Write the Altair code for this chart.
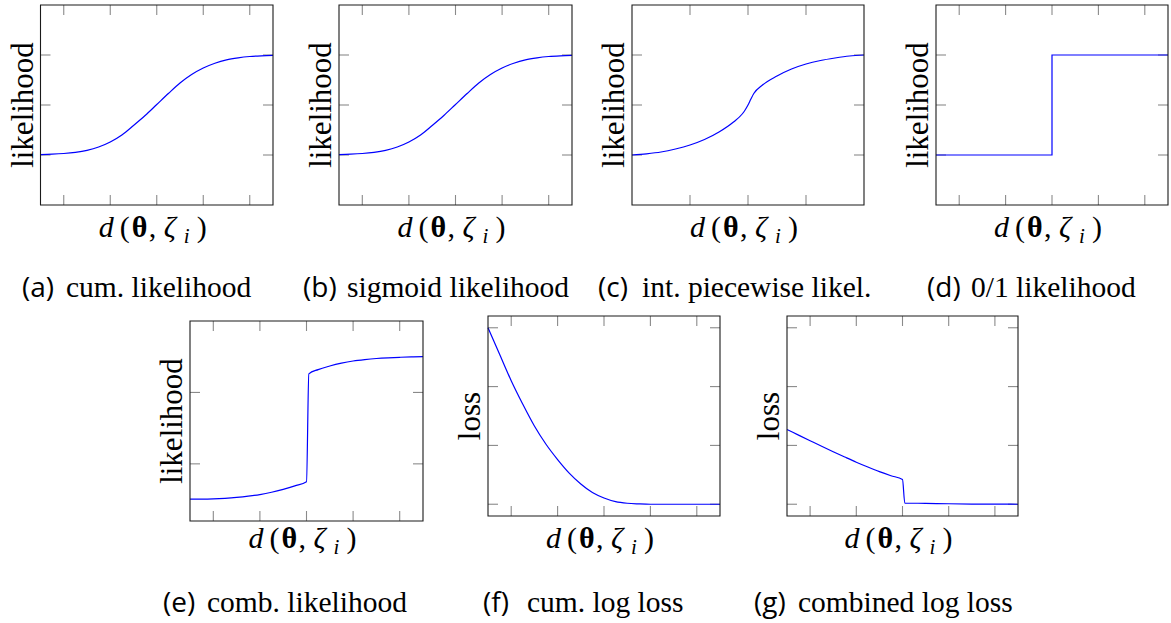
import altair as alt
import pandas as pd

# ---------------- curve samples ----------------
# (a) cumulative likelihood
x_a = [-2.5, -2.25, -2.0, -1.75, -1.5, -1.25, -1.0, -0.75, -0.5, -0.25, 0.0,
       0.25, 0.5, 0.75, 1.0, 1.25, 1.5, 1.75, 2.0, 2.25, 2.5]
y_a = [0.004, 0.008, 0.015, 0.027, 0.047, 0.08, 0.13, 0.2, 0.295, 0.395, 0.505,
       0.615, 0.72, 0.805, 0.87, 0.918, 0.952, 0.972, 0.985, 0.992, 0.996]

# (b) sigmoid likelihood
x_b = [-2.5, -2.25, -2.0, -1.75, -1.5, -1.25, -1.0, -0.75, -0.5, -0.25, 0.0,
       0.25, 0.5, 0.75, 1.0, 1.25, 1.5, 1.75, 2.0, 2.25, 2.5]
y_b = [0.004, 0.008, 0.015, 0.027, 0.047, 0.08, 0.13, 0.2, 0.295, 0.395, 0.505,
       0.615, 0.72, 0.805, 0.87, 0.918, 0.952, 0.972, 0.985, 0.992, 0.996]

# (c) integrated piecewise likelihood
x_c = [-2.0, -1.75, -1.5, -1.25, -1.0, -0.75, -0.5, -0.25, -0.1, -0.05, 0.0,
       0.05, 0.1, 0.25, 0.5, 0.75, 1.0, 1.25, 1.5, 1.75, 2.0]
y_c = [0.0, 0.012, 0.03, 0.06, 0.1, 0.155, 0.23, 0.33, 0.41, 0.45, 0.5,
       0.56, 0.615, 0.7, 0.79, 0.86, 0.91, 0.945, 0.97, 0.99, 1.0]

# (d) 0/1 likelihood
x_d = [-2.5, 0.0, 0.0, 2.5]
y_d = [0.0, 0.0, 1.0, 1.0]

# (e) combined likelihood
x_e = [-2.5, -2.25, -2.0, -1.75, -1.5, -1.25, -1.0, -0.75, -0.5, -0.25, 0.0,
       0.05, 0.25, 0.5, 0.75, 1.0, 1.25, 1.5, 1.75, 2.0, 2.25, 2.5]
y_e = [-0.495, -0.494, -0.49, -0.482, -0.47, -0.453, -0.43, -0.398, -0.357, -0.308, -0.25,
       1.26, 1.32, 1.37, 1.41, 1.44, 1.46, 1.475, 1.485, 1.492, 1.497, 1.5]

# (f) cumulative log loss
x_f = [-2.5, -2.25, -2.0, -1.75, -1.5, -1.25, -1.0, -0.75, -0.5, -0.25, 0.0,
       0.25, 0.5, 0.75, 1.0, 1.5, 2.0, 2.5]
y_f = [3.0, 2.55, 2.1, 1.7, 1.33, 1.02, 0.76, 0.53, 0.345, 0.2, 0.107,
       0.045, 0.017, 0.006, 0.0, 0.0, 0.0, 0.0]

# (g) combined log loss
x_g = [-2.5, -2.25, -2.0, -1.75, -1.5, -1.25, -1.0, -0.75, -0.5, -0.25, 0.0,
       0.05, 0.5, 1.0, 1.5, 2.0, 2.5]
y_g = [1.27, 1.175, 1.08, 0.985, 0.893, 0.803, 0.715, 0.633, 0.555, 0.485, 0.42,
       0.02, 0.015, 0.008, 0.003, 0.001, 0.0]

# axis extents and tick values
xdom_wide = [-2.5, 2.5]
xdom_narrow = [-2.0, 2.0]
xticks_wide = [-2, -1, 0, 1, 2]
xticks_narrow = [-1, 0, 1]
ydom_lik = [-0.5, 1.5]
yticks_lik = [0, 0.5, 1]
ydom_comb = [-0.8, 2.0]
yticks_comb = [0, 1]
ydom_loss = [-0.2, 3.2]
yticks_loss = [0, 1, 2, 3]

letters = ["(a)", "(b)", "(c)", "(d)", "(e)", "(f)", "(g)"]
captions = ["cum. likelihood", "sigmoid likelihood", "int. piecewise likel.",
            "0/1 likelihood", "comb. likelihood", "cum. log loss", "combined log loss"]
ylabels = ["likelihood", "likelihood", "likelihood", "likelihood",
           "likelihood", "loss", "loss"]

# ---------------- layout ----------------
W, H = 1171, 623
# plotting box of every panel: left, right, top, bottom
boxes = [
    (40.5, 273, 5, 205),
    (339, 572, 5, 205),
    (632, 864, 5, 205),
    (936, 1168, 5, 205),
    (190, 423, 321, 521),
    (488, 720, 316, 516),
    (787, 1018, 316, 516),
]
xlabel_base = [237, 237, 237, 237, 548, 548, 548]
caption_base = [297, 297, 297, 297, 612, 612, 612]
caption_left = [22, 303, 598, 927, 163, 483, 754]
# smooth curves; the 0/1 step is drawn with straight segments
interp = ["monotone", "monotone", "monotone", "linear", "monotone", "monotone", "monotone"]

BLUE = "#0000ff"
TICK = "#8a8a8a"
TL = 10
SERIF = "Liberation Serif"
SANS = "Open Sans"


def panel(xs, ys, xdom, ydom, xticks, yticks, box, how):
    left, right, top, bottom = box
    xsc = alt.Scale(domain=xdom, range=[left, right], nice=False, zero=False)
    ysc = alt.Scale(domain=ydom, range=[bottom, top], nice=False, zero=False)

    curve = pd.DataFrame({"x": xs, "y": ys, "i": list(range(len(xs)))})
    line = alt.Chart(curve).mark_line(color=BLUE, strokeWidth=1.2,
                                      interpolate=how).encode(
        x=alt.X("x:Q", scale=xsc, axis=None),
        y=alt.Y("y:Q", scale=ysc, axis=None),
        order=alt.Order("i:Q"),
    )

    edge = pd.DataFrame({"x0": [xdom[0]], "x1": [xdom[1]],
                         "y0": [ydom[0]], "y1": [ydom[1]]})
    frame = alt.Chart(edge).mark_rect(fill="transparent", stroke="#1a1a1a",
                                      strokeWidth=1.1).encode(
        x=alt.X("x0:Q", scale=xsc, axis=None), x2="x1:Q",
        y=alt.Y("y0:Q", scale=ysc, axis=None), y2="y1:Q",
    )

    xt = pd.DataFrame({"t": xticks})
    yt = pd.DataFrame({"t": yticks})
    rule = dict(color=TICK, strokeWidth=1.1)
    bottom_ticks = alt.Chart(xt).mark_rule(**rule).encode(
        x=alt.X("t:Q", scale=xsc, axis=None),
        y=alt.value(bottom), y2=alt.value(bottom - TL))
    top_ticks = alt.Chart(xt).mark_rule(**rule).encode(
        x=alt.X("t:Q", scale=xsc, axis=None),
        y=alt.value(top), y2=alt.value(top + TL))
    left_ticks = alt.Chart(yt).mark_rule(**rule).encode(
        y=alt.Y("t:Q", scale=ysc, axis=None),
        x=alt.value(left), x2=alt.value(left + TL))
    right_ticks = alt.Chart(yt).mark_rule(**rule).encode(
        y=alt.Y("t:Q", scale=ysc, axis=None),
        x=alt.value(right), x2=alt.value(right - TL))

    return alt.layer(bottom_ticks, top_ticks, left_ticks, right_ticks, line, frame)


specs = [
    (x_a, y_a, xdom_wide, ydom_lik, xticks_wide, yticks_lik),
    (x_b, y_b, xdom_wide, ydom_lik, xticks_wide, yticks_lik),
    (x_c, y_c, xdom_narrow, ydom_lik, xticks_narrow, yticks_lik),
    (x_d, y_d, xdom_wide, ydom_lik, xticks_wide, yticks_lik),
    (x_e, y_e, xdom_wide, ydom_comb, xticks_wide, yticks_comb),
    (x_f, y_f, xdom_wide, ydom_loss, xticks_wide, yticks_loss),
    (x_g, y_g, xdom_wide, ydom_loss, xticks_wide, yticks_loss),
]
panels = [panel(*s, box, how) for s, box, how in zip(specs, boxes, interp)]

# ---------------- text ----------------
ylab_rows, cap_l_rows, cap_t_rows = [], [], []
xl_reg, xl_ital, xl_bold, xl_sub = [], [], [], []
for k, (left, right, top, bottom) in enumerate(boxes):
    ylab_rows.append({"t": ylabels[k], "px": left - 8, "py": (top + bottom) / 2})
    cap_l_rows.append({"t": letters[k], "px": caption_left[k], "py": caption_base[k]})
    cap_t_rows.append({"t": captions[k], "px": caption_left[k] + 44, "py": caption_base[k]})
    cx = (left + right) / 2
    by = xlabel_base[k]
    xl_ital.append({"t": "d", "px": cx - 58, "py": by})
    xl_reg.append({"t": "(", "px": cx - 37, "py": by})
    xl_bold.append({"t": "θ", "px": cx - 25, "py": by})
    xl_reg.append({"t": ",", "px": cx - 8, "py": by})
    xl_ital.append({"t": "ζ", "px": cx + 7, "py": by})
    xl_sub.append({"t": "i", "px": cx + 27, "py": by + 6})
    xl_reg.append({"t": ")", "px": cx + 40, "py": by})


def text_layer(rows, **mark):
    return alt.Chart(pd.DataFrame(rows)).mark_text(**mark).encode(
        x=alt.X("px:Q", scale=None),
        y=alt.Y("py:Q", scale=None),
        text="t:N",
    )


texts = [
    text_layer(ylab_rows, font=SERIF, fontSize=31, angle=270, align="center",
               baseline="alphabetic", color="black"),
    text_layer(cap_l_rows, font=SANS, fontSize=28, align="left",
               baseline="alphabetic", color="black"),
    text_layer(cap_t_rows, font=SERIF, fontSize=29.5, align="left",
               baseline="alphabetic", color="black"),
    text_layer(xl_ital, font=SERIF, fontSize=30, fontStyle="italic", align="left",
               baseline="alphabetic", color="black"),
    text_layer(xl_reg, font=SERIF, fontSize=30, align="left",
               baseline="alphabetic", color="black"),
    text_layer(xl_bold, font=SERIF, fontSize=30, fontWeight="bold", align="left",
               baseline="alphabetic", color="black"),
    text_layer(xl_sub, font=SERIF, fontSize=21, fontStyle="italic", align="left",
               baseline="alphabetic", color="black"),
]

chart = alt.layer(*panels, *texts).resolve_scale(
    x="independent", y="independent"
).properties(
    width=W, height=H, padding=0, autosize=alt.AutoSizeParams(type="none"),
    background="white",
).configure_view(stroke=None)

chart.save("out.html", embed_options={"renderer": "svg", "actions": False})
